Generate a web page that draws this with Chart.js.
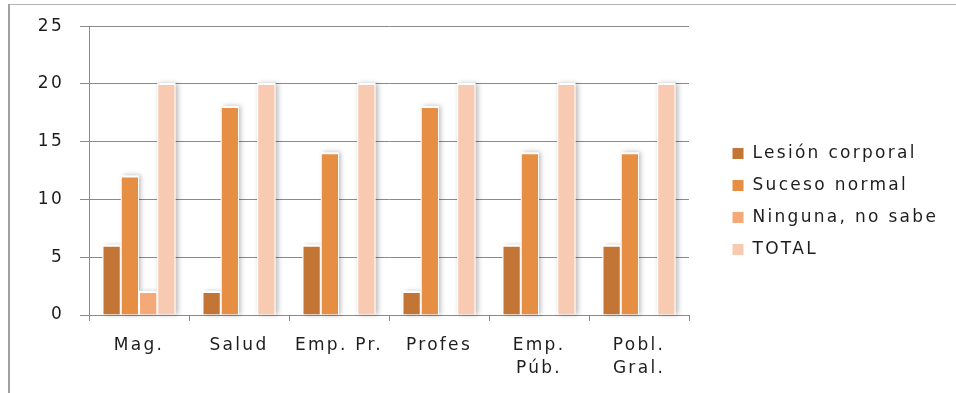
<!DOCTYPE html>
<html>
<head>
<meta charset="utf-8">
<script src="https://cdn.jsdelivr.net/npm/chart.js@4.4.1/dist/chart.umd.min.js"></script>
<style>
  html, body { margin: 0; padding: 0; background: #fff; }
  #wrap { position: relative; width: 956px; height: 393px; overflow: hidden; }
  #frame { position: absolute; left: 8px; top: 4px; right: 0; bottom: 0;
           border-left: 2px solid #a0a0a0; border-top: 1px solid #b4b4b4; }
  canvas { position: absolute; left: 0; top: 0; }
</style>
</head>
<body>
<div id="wrap">
  <div id="frame"></div>
  <canvas id="chart" width="956" height="393"></canvas>
</div>
<script>
const categories = ['Mag.', 'Salud', 'Emp. Pr.', 'Profes', ['Emp.', 'Púb.'], ['Pobl.', 'Gral.']];
const lesionCorporal = [6, 2, 6, 2, 6, 6];
const sucesoNormal = [12, 18, 14, 18, 14, 14];
const ningunaNoSabe = [2, 0, 0, 0, 0, 0];
const total = [20, 20, 20, 20, 20, 20];
const yMax = 25;
const yStep = 5;

const textColor = '#1e1e1e';
const gridColor = '#8a8a8a';
const spacing = '2.3px';

// letter spacing gets reset whenever the canvas is resized, so set it again before layout/draw
const spacingPlugin = {
  id: 'spacing',
  beforeLayout(chart) { chart.ctx.letterSpacing = spacing; },
  beforeDraw(chart) { chart.ctx.letterSpacing = spacing; }
};

// fixed legend column on the right, items pushed a bit away from the plot
const legendPlace = {
  id: 'legendPlace',
  beforeLayout(chart) {
    const lg = chart.legend;
    if (lg && !lg._fixed) {
      const fit = lg.fit.bind(lg);
      lg.fit = function () { fit(); this.width = 267; };
      lg._fixed = true;
    }
  },
  afterLayout(chart) {
    const lg = chart.legend;
    lg.left += 28;
    lg.top -= 4;
    lg.bottom -= 4;
  }
};

// soft shadow behind each bar, like the office chart
const barShadow = {
  id: 'barShadow',
  beforeDatasetsDraw(chart) {
    const ctx = chart.ctx;
    ctx.save();
    ctx.shadowColor = 'rgba(0,0,0,0.28)';
    ctx.shadowBlur = 5;
    ctx.shadowOffsetX = 2;
    ctx.fillStyle = '#fff';
    chart.data.datasets.forEach((ds, i) => {
      chart.getDatasetMeta(i).data.forEach(bar => {
        const p = bar.getProps(['x', 'y', 'base', 'width'], true);
        const h = p.base - p.y;
        if (h < 1) return;
        ctx.fillRect(p.x - p.width / 2, p.y - 1, p.width, h + 1);
      });
    });
    ctx.restore();
  }
};

function series(label, values, color) {
  return {
    label: label,
    data: values,
    backgroundColor: color,
    borderColor: '#fff',
    borderWidth: 1,
    categoryPercentage: 0.73,
    barPercentage: 1.0
  };
}

const ctx = document.getElementById('chart').getContext('2d');
new Chart(ctx, {
  type: 'bar',
  data: {
    labels: categories,
    datasets: [
      series('Lesión corporal', lesionCorporal, '#c37536'),
      series('Suceso normal', sucesoNormal, '#e78e45'),
      series('Ninguna, no sabe', ningunaNoSabe, '#f6a978'),
      series('TOTAL', total, '#f8cab2')
    ]
  },
  options: {
    responsive: false,
    animation: false,
    layout: { padding: { top: 18, right: 0, bottom: 0, left: 0 } },
    plugins: {
      tooltip: { enabled: false },
      legend: {
        position: 'right',
        labels: {
          boxWidth: 12,
          boxHeight: 12,
          padding: 15,
          color: textColor,
          font: { family: 'DejaVu Sans', size: 17 }
        }
      }
    },
    scales: {
      x: {
        grid: { display: true, drawOnChartArea: false, color: gridColor, tickLength: 6, offset: true },
        border: { display: true, color: gridColor },
        ticks: {
          color: textColor,
          padding: 14,
          maxRotation: 0,
          font: { family: 'DejaVu Sans', size: 17, lineHeight: 1.3 }
        },
        afterFit(scale) { scale.height = 78; }
      },
      y: {
        min: 0,
        max: yMax,
        ticks: {
          stepSize: yStep,
          color: textColor,
          padding: 16,
          font: { family: 'DejaVu Sans', size: 17 }
        },
        grid: { color: gridColor, tickLength: 9 },
        border: { display: true, color: gridColor },
        afterFit(scale) { scale.width = 89; }
      }
    }
  },
  plugins: [spacingPlugin, legendPlace, barShadow]
});
</script>
</body>
</html>
